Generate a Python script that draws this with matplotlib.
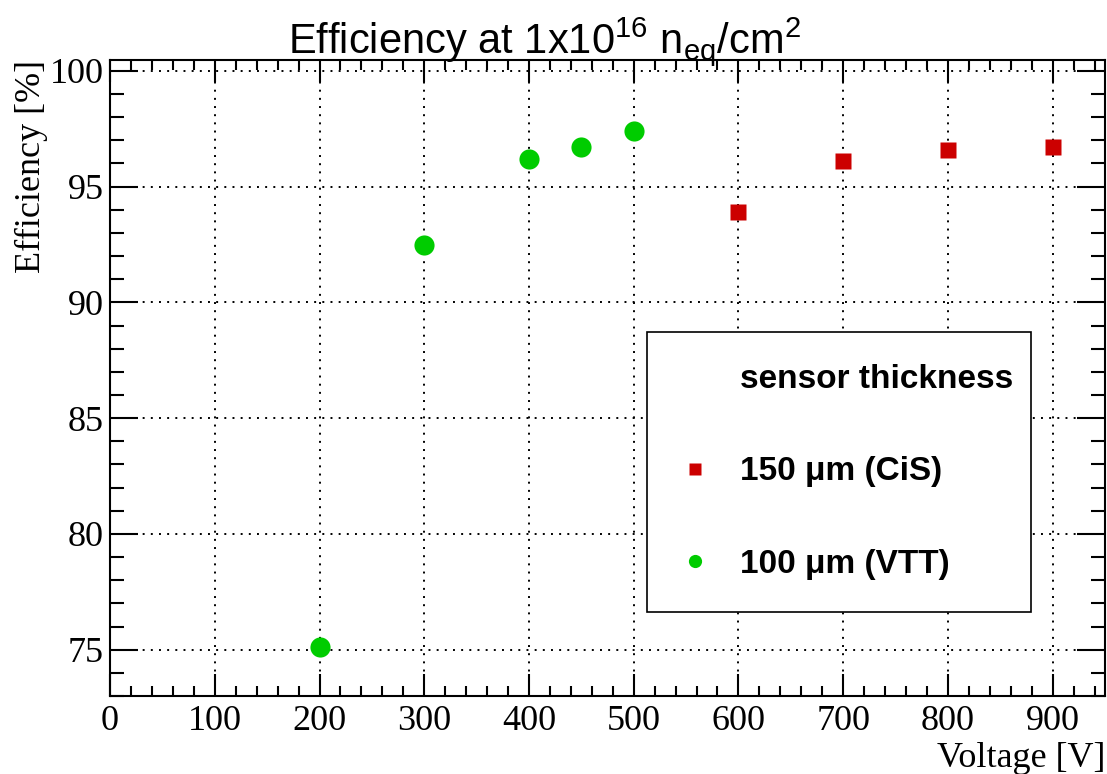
import matplotlib
matplotlib.use("Agg")
import matplotlib.pyplot as plt
from matplotlib.lines import Line2D
from matplotlib.ticker import MultipleLocator

# 150 um CiS sensors
cis_voltage = [600, 700, 800, 900]
cis_eff = [93.9, 96.1, 96.6, 96.7]

# 100 um VTT sensors
vtt_voltage = [200, 300, 400, 450, 500]
vtt_eff = [75.1, 92.5, 96.2, 96.7, 97.4]

RED = "#cc0000"
GREEN = "#00cc00"
SERIF = "Liberation Serif"
SANS = "Liberation Sans"

plt.rcParams["mathtext.fontset"] = "custom"
plt.rcParams["mathtext.rm"] = SANS
plt.rcParams["mathtext.default"] = "regular"

fig = plt.figure(figsize=(11.07, 7.74), dpi=100)
ax = fig.add_axes([0.0994, 0.1008, 0.8988, 0.8217])

ax.plot(vtt_voltage, vtt_eff, "o", color=GREEN, ms=14.5, mec="none", zorder=5)
ax.plot(cis_voltage, cis_eff, "s", color=RED, ms=11.5, mec="none", zorder=5)

ax.set_xlim(0, 950)
ax.set_ylim(73.0, 100.47)
ax.xaxis.set_major_locator(MultipleLocator(100))
ax.xaxis.set_minor_locator(MultipleLocator(20))
ax.yaxis.set_major_locator(MultipleLocator(5))
ax.yaxis.set_minor_locator(MultipleLocator(1))

ax.grid(True, which="major", color="black", ls=(0, (1, 3.2)), lw=1.4)
for s in ax.spines.values():
    s.set_linewidth(1.5)

ax.tick_params(which="both", direction="in", top=True, right=True, width=1.5)
ax.tick_params(axis="x", which="major", length=16, pad=6.5)
ax.tick_params(axis="x", which="minor", length=7.5)
ax.tick_params(axis="y", which="major", length=20, pad=4.3)
ax.tick_params(axis="y", which="minor", length=10)
for lab in ax.get_xticklabels() + ax.get_yticklabels():
    lab.set_fontfamily(SERIF)
    lab.set_fontsize(26)

ax.set_xlabel("Voltage [V]", fontfamily=SERIF, fontsize=26, loc="right")
ax.xaxis.set_label_coords(1.0, -0.072)
ax.set_ylabel("Efficiency [%]", fontfamily=SERIF, fontsize=26, loc="top")
ax.yaxis.set_label_coords(-0.062, 1.0)

fig.text(545 / 1107, 1 - 53 / 774,
         r"Efficiency at 1x10$^{16}$ n$_{eq}$/cm$^{2}$",
         fontfamily=SANS, fontsize=30, ha="center", va="baseline")

handles = [
    Line2D([], [], ls="none", marker=None),
    Line2D([], [], ls="none", marker="s", color=RED, ms=8, mec="none"),
    Line2D([], [], ls="none", marker="o", color=GREEN, ms=9.5, mec="none"),
]
labels = ["sensor thickness", "150 μm (CiS)", "100 μm (VTT)"]
leg = ax.legend(handles, labels, loc="upper left",
                bbox_to_anchor=(0.5397, 0.5723, 0.3859, 0.0), mode="expand",
                prop={"family": SANS, "weight": "bold", "size": 24},
                frameon=True, fancybox=False, framealpha=1, edgecolor="black",
                borderpad=0.95, labelspacing=1.85, handlelength=1.0,
                handletextpad=0.85, borderaxespad=0)
leg.get_frame().set_linewidth(1.2)

fig.savefig("out.png", dpi=100)
